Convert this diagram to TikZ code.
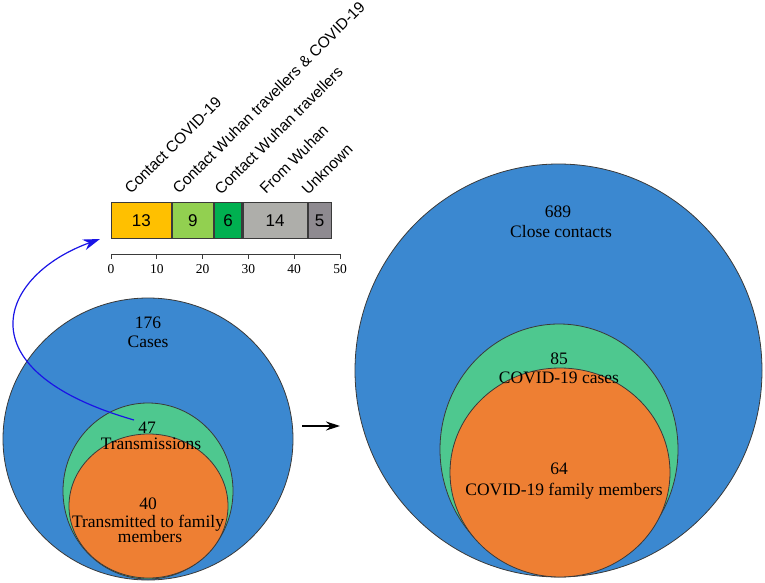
\documentclass[tikz,border=0pt]{standalone}
\usepackage{fontspec}
\setmainfont{Liberation Serif}
\newfontfamily\arialf{Liberation Sans}
\usetikzlibrary{arrows.meta}
\definecolor{cblue}{HTML}{3B88D0}
\definecolor{cgreen}{HTML}{4EC88F}
\definecolor{corange}{HTML}{EE7F33}
\definecolor{edge}{HTML}{3A3A3A}
\definecolor{byellow}{HTML}{FFC000}
\definecolor{blgreen}{HTML}{92D050}
\definecolor{bgreen}{HTML}{00B050}
\definecolor{bgray}{HTML}{AEAEAA}
\definecolor{bdgray}{HTML}{8E8A90}
\definecolor{arrowblue}{HTML}{1A14E6}
\tikzset{
  ring/.style={draw=edge, line width=0.8pt},
  seg/.style={draw=edge, line width=1.1pt, inner sep=0pt, minimum height=36pt, anchor=north west, font=\arialf\fontsize{17}{19}\selectfont},
  lbl/.style={inner sep=0pt, anchor=base, font=\fontsize{17.5}{19}\selectfont},
  cat/.style={inner sep=0pt, anchor=base west, rotate=45, font=\arialf\fontsize{15.5}{17}\selectfont},
  axlbl/.style={inner sep=0pt, font=\fontsize{13.5}{15}\selectfont},
}
\begin{document}
\begin{tikzpicture}[x=1pt,y=-1pt]
\useasboundingbox (0,0) rectangle (765,583);
% left circles
\fill[cblue] (148,439) ellipse [x radius=145, y radius=141];
\draw[ring] (148,439) ellipse [x radius=145, y radius=141];
\fill[cgreen] (148,491) ellipse [x radius=85, y radius=88];
\draw[ring] (148,491) ellipse [x radius=85, y radius=88];
\fill[corange] (148.5,506) ellipse [x radius=79.5, y radius=72];
\draw[ring] (148.5,506) ellipse [x radius=79.5, y radius=72];
% right circles
\fill[cblue] (558.5,370.5) ellipse [x radius=203.5, y radius=206.5];
\draw[ring] (558.5,370.5) ellipse [x radius=203.5, y radius=206.5];
\fill[cgreen] (559,449.5) ellipse [x radius=119, y radius=125.5];
\draw[ring] (559,449.5) ellipse [x radius=119, y radius=125.5];
\fill[corange] (560,472.5) ellipse [x radius=110, y radius=104.5];
\draw[ring] (560,472.5) ellipse [x radius=110, y radius=104.5];
% left labels
\node[lbl] (n176) at (148,328) {176};
\node[lbl] (tcases) at (148,347) {Cases};
\node[lbl] (n47) at (147,433) {47};
\node[lbl] (ttrans) at (151,449) {Transmissions};
\node[lbl] (n40) at (148,509) {40};
\node[lbl] (tfam1) at (148,527) {Transmitted to family};
\node[lbl] (tfam2) at (150,542) {members};
% right labels
\node[lbl] (n689) at (558,217) {689};
\node[lbl] (tclose) at (561,237) {Close contacts};
\node[lbl] (n85) at (559,364) {85};
\node[lbl] (tcov) at (559,383) {COVID-19 cases};
\node[lbl] (n64) at (559,474) {64};
\node[lbl] (tcovfam) at (564,495) {COVID-19 family members};
% bar
\node[seg, fill=byellow, minimum width=59.5pt] (s1) at (111,202) {13};
\node[seg, fill=blgreen, minimum width=41.2pt] (s2) at (s1.north east) {9};
\node[seg, fill=bgreen, minimum width=27.5pt] (s3) at (s2.north east) {6};
\node[seg, fill=bgray, minimum width=64.1pt] (s4) at (s3.north east) {14};
\node[seg, fill=bdgray, minimum width=22.9pt] (s5) at (s4.north east) {5};
% category labels
\node[cat] (c1) at (131,195) {Contact COVID-19};
\node[cat] (c2) at (179,195) {Contact Wuhan travellers \& COVID-19};
\node[cat] (c3) at (221,196) {Contact Wuhan travellers};
\node[cat] (c4) at (266,195) {From Wuhan};
\node[cat] (c5) at (308,196) {Unknown};
% axis
\draw[line width=1pt, edge] (111,259) -- (111,254) -- (340,254) -- (340,259);
\foreach \v [count=\i from 0] in {0,10,20,30,40,50} {
  \draw[line width=1pt, edge] ({111+\i*45.8},254) -- ({111+\i*45.8},259);
  \node[axlbl] (ax\i) at ({111+\i*45.8},269) {\v};
}
% arrows
\coordinate (bstart) at (134,420);
\coordinate (bend) at (100,239);
\draw[arrowblue, line width=1.2pt, -{Stealth[length=17pt, width=11pt]}] (bstart) .. controls (-40,370) and (0,275) .. (bend);
\coordinate (k1) at (302,426);
\coordinate (k2) at (340,426);
\draw[black, line width=1.3pt, -{Stealth[length=14pt, width=9pt]}] (k1) -- (k2);
\end{tikzpicture}
\end{document}
